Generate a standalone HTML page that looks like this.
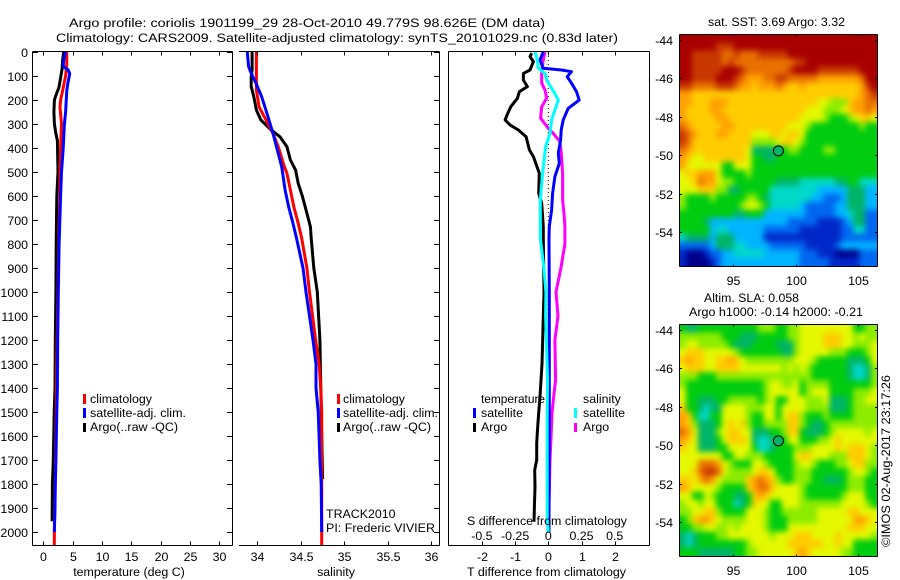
<!DOCTYPE html>
<html lang="en">
<head>
<meta charset="utf-8">
<title>Argo profile 1901199_29</title>
<style>
html,body{margin:0;padding:0;background:#fff;}
svg{display:block;}
text{font-family:"Liberation Sans",sans-serif;font-size:12.4px;fill:#000;}
.frame{stroke:#000;stroke-width:1;fill:none;shape-rendering:crispEdges;}
.tick{stroke:#000;stroke-width:1;shape-rendering:crispEdges;}
.mark{stroke-width:3.4;shape-rendering:crispEdges;}
</style>
</head>
<body>
<svg id="chart" xmlns="http://www.w3.org/2000/svg" width="900" height="580" viewBox="0 0 900 580">
  <defs>
    <filter id="soften" x="-5%" y="-5%" width="110%" height="110%" color-interpolation-filters="sRGB"><feGaussianBlur stdDeviation="3"/></filter>
    <clipPath id="clip-sst"><rect x="680" y="35" width="197" height="231"/></clipPath>
    <clipPath id="clip-sla"><rect x="680" y="325" width="197" height="231"/></clipPath>
  </defs>
  <rect x="0" y="0" width="900" height="580" fill="#fff"/>

  <text x="69" y="27" textLength="476" lengthAdjust="spacingAndGlyphs">Argo profile: coriolis 1901199_29 28-Oct-2010 49.779S 98.626E (DM data)</text>
  <text x="56" y="42" textLength="562" lengthAdjust="spacingAndGlyphs">Climatology: CARS2009. Satellite-adjusted climatology: synTS_20101029.nc (0.83d later)</text>

  <g id="panel-temp"></g>
  <g id="panel-sal"></g>
  <g id="panel-diff"></g>

  <text x="129" y="576" text-anchor="middle">temperature (deg C)</text>
  <text x="336" y="576" text-anchor="middle">salinity</text>
  <text x="467" y="576" textLength="159" lengthAdjust="spacingAndGlyphs">T difference from climatology</text>
  <text x="467" y="525" textLength="160" lengthAdjust="spacingAndGlyphs">S difference from climatology</text>

  <g>
    <line class="mark" x1="84.5" x2="84.5" y1="394" y2="404" stroke="#ff0000"/>
    <line class="mark" x1="84.5" x2="84.5" y1="408" y2="418" stroke="#0000ff"/>
    <line class="mark" x1="84.5" x2="84.5" y1="423" y2="432" stroke="#000"/>
    <text x="90" y="403" textLength="62" lengthAdjust="spacingAndGlyphs">climatology</text>
    <text x="90" y="417" textLength="96" lengthAdjust="spacingAndGlyphs">satellite-adj. clim.</text>
    <text x="90" y="431" textLength="88" lengthAdjust="spacingAndGlyphs">Argo(..raw -QC)</text>
  </g>
  <g>
    <line class="mark" x1="338.5" x2="338.5" y1="394" y2="404" stroke="#ff0000"/>
    <line class="mark" x1="338.5" x2="338.5" y1="408" y2="418" stroke="#0000ff"/>
    <line class="mark" x1="338.5" x2="338.5" y1="423" y2="432" stroke="#000"/>
    <text x="343" y="403" textLength="62" lengthAdjust="spacingAndGlyphs">climatology</text>
    <text x="343" y="417" textLength="95" lengthAdjust="spacingAndGlyphs">satellite-adj. clim.</text>
    <text x="343" y="431" textLength="88" lengthAdjust="spacingAndGlyphs">Argo(..raw -QC)</text>
  </g>
  <text x="326" y="518">TRACK2010</text>
  <text x="326" y="532" textLength="109" lengthAdjust="spacingAndGlyphs">PI: Frederic VIVIER</text>

  <g>
    <text x="481" y="403" textLength="64" lengthAdjust="spacingAndGlyphs">temperature</text>
    <text x="583" y="403">salinity</text>
    <line class="mark" x1="474.5" x2="474.5" y1="408" y2="418" stroke="#0000ff"/>
    <line class="mark" x1="474.5" x2="474.5" y1="423" y2="432" stroke="#000"/>
    <line class="mark" x1="575.5" x2="575.5" y1="408" y2="418" stroke="#00ffff"/>
    <line class="mark" x1="575.5" x2="575.5" y1="423" y2="432" stroke="#ff00ff"/>
    <text x="481" y="417">satellite</text>
    <text x="481" y="431">Argo</text>
    <text x="583" y="417">satellite</text>
    <text x="583" y="431">Argo</text>
  </g>

  <text x="708" y="26" textLength="137" lengthAdjust="spacingAndGlyphs">sat. SST: 3.69 Argo: 3.32</text>
  <text x="704" y="302" textLength="95" lengthAdjust="spacingAndGlyphs">Altim. SLA: 0.058</text>
  <text x="689" y="316" textLength="174" lengthAdjust="spacingAndGlyphs">Argo h1000: -0.14 h2000: -0.21</text>
  <g id="map-sst"></g>
  <g id="map-sla"></g>
  <text transform="translate(890 547) rotate(-90)" textLength="172" lengthAdjust="spacingAndGlyphs">©IMOS 02-Aug-2017 23:17:26</text>
</svg>

<script>
// ---------- Shared axis values ----------
const depthTicks = [0,100,200,300,400,500,600,700,800,900,1000,1100,1200,1300,1400,1500,1600,1700,1800,1900,2000];
const tempTicks = [0,5,10,15,20,25,30];
const salTicks = [34,34.5,35,35.5,36];
const tDiffTicks = [-2,-1,0,1,2];
const tDiffTickLabels = ['-2','-1','0','1','2'];
const sDiffTicks = [-0.5,-0.25,0,0.25,0.5];
const sDiffTickLabels = ['-0.5','-0.25','0','0.25','0.5'];
const lonTicks = [95,100,105];
const latTicks = [-44,-46,-48,-50,-52,-54];

// ---------- Temperature profiles ----------
const tempClimDepth = [0,50,100,150,200,230,300,400,500,600,800,1000,1200,1400,1700,2000,2054];
const tempClimValue = [3.98,4.0,3.8,3.4,2.95,2.85,3.1,2.95,2.85,2.8,2.65,2.5,2.35,2.25,2.1,1.9,1.87];
const tempSatDepth = [0,30,60,75,90,130,160,250,300,400,500,600,800,1000,1200,1400,1500,1700,1800,1900,2000];
const tempSatValue = [3.8,3.5,3.4,4.25,4.5,4.2,4.0,3.8,3.6,3.4,3.1,2.95,2.7,2.55,2.45,2.4,2.3,2.15,2.05,2.0,1.87];
const tempArgoDepth = [0,30,70,100,150,170,200,250,300,340,370,500,600,800,1000,1200,1400,1500,1700,1800,1955];
const tempArgoValue = [3.5,3.3,3.2,3.0,2.65,2.3,1.9,1.8,1.9,2.15,2.4,2.5,2.3,2.2,2.15,2.05,2.0,1.85,1.7,1.55,1.5];

// ---------- Salinity profiles ----------
const salClimDepth = [0,89,158,228,283,339,394,478,505,575,644,714,776,900,1000,1200,1300,1400,1500,2054];
const salClimValue = [33.99,33.99,33.99,34.02,34.1,34.18,34.24,34.31,34.34,34.38,34.42,34.47,34.51,34.57,34.6,34.67,34.71,34.73,34.74,34.74];
const salSatDepth = [0,61,89,130,186,255,339,408,478,575,644,714,776,900,1000,1200,1300,1400,1500,1600,1700,1800,2000];
const salSatValue = [33.885,33.9,33.93,33.985,34.05,34.11,34.18,34.23,34.28,34.32,34.36,34.41,34.45,34.525,34.56,34.64,34.675,34.675,34.7,34.71,34.72,34.735,34.74];
const salArgoDepth = [0,75,103,144,186,242,283,325,353,394,450,492,547,603,658,728,776,900,1000,1200,1400,1780];
const salArgoValue = [33.94,33.94,33.93,33.93,33.96,33.99,34.04,34.16,34.26,34.34,34.38,34.44,34.47,34.52,34.56,34.61,34.62,34.65,34.69,34.72,34.73,34.75];

// ---------- Differences from climatology (salinity in S units, temperature in deg C) ----------
const tSatDiffDepth = [0,33,68,75,82,103,130,165,200,235,283,325,367,422,464,519,589,658,728,776,1000,1400,2000];
const tSatDiffValue = [-0.15,-0.25,-0.15,0.4,0.7,0.57,0.7,0.85,0.93,0.6,0.45,0.39,0.37,0.3,0.33,0.2,0.13,0.1,0.03,0.02,0.03,0.03,0.02];
const tArgoDiffDepth = [5,19,40,75,89,117,144,165,193,228,255,283,304,325,353,408,436,505,589,630,728,776,1000,1300,1436,1504,1561,1630,1700,1742,1811,1895,1957];
const tArgoDiffValue = [-0.5,-0.55,-0.45,-0.55,-0.75,-0.75,-0.63,-0.87,-0.93,-1.13,-1.22,-1.3,-1.15,-0.9,-0.67,-0.57,-0.45,-0.27,-0.29,-0.2,-0.15,-0.15,-0.13,-0.19,-0.25,-0.29,-0.32,-0.35,-0.35,-0.41,-0.4,-0.42,-0.43];
const sSatDiffDepth = [0,33,68,89,117,158,200,242,283,339,394,505,617,776,800,900,1000,1100,1367,1500,1700,1950,2000];
const sSatDiffValue = [-0.1,-0.083,-0.075,-0.025,-0.013,0.033,0.075,0.05,0.025,0.013,-0.02,-0.043,-0.06,-0.06,-0.055,-0.033,-0.018,-0.02,-0.005,-0.008,-0.008,-0.008,0];
const sArgoDiffDepth = [0,33,75,130,158,193,228,276,318,339,374,422,505,617,672,728,776,800,900,1000,1100,1200,1367,1450,1504,1610,1700,1825,1920];
const sArgoDiffValue = [-0.025,-0.038,-0.05,-0.05,-0.025,-0.013,-0.05,-0.058,0,0.038,0.088,0.098,0.108,0.108,0.118,0.125,0.125,0.125,0.095,0.058,0.073,0.05,0.055,0.038,0.028,0.02,0.013,0.008,0.003];

// ---------- Map grids: hex colour level per cell, north to south ----------
const sstRows = [
"ddddddddddd"+"ddddddddddd"+"ddddddddddd",
"ddddddcccdd"+"ddddddddddd"+"ddddddddddd",
"ddcccccbbcb"+"bbcccccdddd"+"ddddddddddd",
"ddcccccbcbb"+"bbbbbbbbccd"+"ddddddddddd",
"ddcccccdddc"+"bbbbbbbcddd"+"dcccccccddd",
"ddccccdddcb"+"aaabbccbbbb"+"baaaaaaabdd",
"ccbbbbcccba"+"a9aaaba99a9"+"99999999acd",
"aa999999999"+"99999999999"+"99999999abc",
"aa999aaa999"+"99999999999"+"9887779aabb",
"a9999aa9999"+"99999999998"+"8877789aaba",
"a99999aa999"+"99999999988"+"88766678998",
"ba99999aa99"+"99999998887"+"66666666766",
"cba999aa999"+"98889989986"+"66666666666",
"cb999999999"+"97777899876"+"66666666666",
"ba999999999"+"85555567766"+"66776666666",
"a9889999999"+"86655666666"+"66666666666",
"a8888886688"+"86666666666"+"66666666666",
"899aaa86666"+"76666666666"+"66666666666",
"889baa87766"+"66666555544"+"44445566444",
"88899977556"+"66664444444"+"43333355533",
"76666766666"+"77654444444"+"33222355533",
"76666666667"+"88764444432"+"22223355533",
"66666666655"+"66633333332"+"22223345522",
"66665333333"+"33333332222"+"21111235522",
"66666344333"+"33322222211"+"11111224422",
"45555355533"+"33311111111"+"11111222222",
"22222355544"+"33332222221"+"11112333333",
"10001223344"+"44433333322"+"21110000222",
"10000123333"+"33333333322"+"22211111222"
];
const slaRows = [
"65566666666"+"66777667788"+"88888886677",
"77777776665"+"55666667788"+"88999887877",
"78877777655"+"56666555788"+"88999887778",
"89998888876"+"66666655788"+"88877766678",
"9a998899a98"+"77777777888"+"76666655568",
"89998899998"+"88888878787"+"66666654457",
"77766677777"+"77777777777"+"66666654457",
"76666666666"+"66678877867"+"77766666667",
"86666666666"+"66678888867"+"88866667778",
"86655566777"+"77678668887"+"77855567788",
"96654558888"+"77788688887"+"77755567777",
"a9644668888"+"76688689976"+"66766667777",
"a9755568989"+"76677779976"+"55677777777",
"ba855578998"+"85556679965"+"55678888878",
"a9855568999"+"85445668866"+"67789888888",
"98855566888"+"86445666777"+"88889899987",
"88888886688"+"77766666899"+"88877799987",
"888bbba8766"+"68876666788"+"76667789977",
"889bccb8777"+"78998666777"+"66666678876",
"998aba87777"+"9aba9766777"+"66555677766",
"a9888876666"+"9abb9888876"+"66666677766",
"88668766655"+"69a98888876"+"66666788866",
"78878866645"+"69886688877"+"77777888876",
"77889976666"+"88876677777"+"78888899888",
"679aa987777"+"88876667777"+"7888888aa98",
"66778877878"+"88876668888"+"88888899988",
"54566677888"+"88887888999"+"88889888887",
"54566666666"+"78888889999"+"99889886666",
"66655555566"+"778888889a9"+"88888776666"
];
const argoLon = 98.626;
const argoLat = -49.779;
const sstArgoLevel = 5;
const slaArgoLevel = 5;
const colormap = ['#00008c','#0028c8','#0068f0','#00b4ff','#00d8c8','#00b468','#00cc10','#8cec00','#e4f800','#ffcc00','#ffa000','#e87000','#c83800','#a80000'];

// ---------- Scales ----------
const NS = 'http://www.w3.org/2000/svg';
const yDepth = d => 52 + 0.24 * d;
const xTemp = v => 43.3 + 5.867 * v;
const xSal = v => 257.3 + 87 * (v - 34);
const xDiff = v => 548.3 + 33.2 * v;
const xLon = v => 733 + 12.53 * (v - 95);
const yLat = (v, top) => top + 5.7 + (-44 - v) * 19.23;

function make(tag, attrs, parent, text) {
  const n = document.createElementNS(NS, tag);
  for (const k in attrs) n.setAttribute(k, attrs[k]);
  if (text !== undefined) n.textContent = text;
  parent.appendChild(n);
  return n;
}
function tickLine(parent, x1, y1, x2, y2) {
  const t = make('line', {x1, y1, x2, y2, class: 'tick'}, parent);
  
  
}
function label(parent, x, y, anchor, str) {
  const t = make('text', {x, y, 'text-anchor': anchor}, parent, str);
  
  
}
function profile(parent, depths, values, xf, color, name, width) {
  const pts = depths.map((d, i) => xf(values[i]).toFixed(1) + ',' + yDepth(d).toFixed(1)).join(' ');
  const p = make('polyline', {points: pts, fill: 'none', stroke: color, 'stroke-width': width, 'stroke-linejoin': 'round'}, parent);
  
  
}
function frameLine(parent, x1, y1, x2, y2) {
  const l = make('line', {x1, y1, x2, y2, class: 'frame'}, parent);
  
  
}

const TOP = 51.5, BOT = 545.5;

// ---------- Temperature panel ----------
const pT = document.getElementById('panel-temp');
profile(pT, tempArgoDepth, tempArgoValue, xTemp, '#000', 'temperature-argo-line', 3);
profile(pT, tempClimDepth, tempClimValue, xTemp, '#ff0000', 'temperature-climatology-line', 3);
profile(pT, tempSatDepth, tempSatValue, xTemp, '#0000ff', 'temperature-satellite-line', 3);
frameLine(pT, 32.5, TOP, 232.5, TOP);
frameLine(pT, 32.5, BOT, 232.5, BOT);
frameLine(pT, 32.5, TOP, 32.5, BOT);
frameLine(pT, 232.5, TOP, 232.5, BOT);
depthTicks.forEach(d => {
  const y = Math.round(yDepth(d)) + 0.5;
  tickLine(pT, 32.5, y, 38, y);
  tickLine(pT, 227, y, 232.5, y);
  label(pT, 28, y + 4.5, 'end', String(d));
});
tempTicks.forEach(v => {
  const x = Math.round(xTemp(v)) + 0.5;
  tickLine(pT, x, TOP, x, TOP + 4);
  tickLine(pT, x, BOT - 4, x, BOT);
  label(pT, x, 561, 'middle', String(v));
});

// ---------- Salinity panel ----------
const pS = document.getElementById('panel-sal');
profile(pS, salArgoDepth, salArgoValue, xSal, '#000', 'salinity-argo-line', 3);
profile(pS, salClimDepth, salClimValue, xSal, '#ff0000', 'salinity-climatology-line', 3);
profile(pS, salSatDepth, salSatValue, xSal, '#0000ff', 'salinity-satellite-line', 3);
frameLine(pS, 239, TOP, 439.5, TOP);
frameLine(pS, 239, BOT, 439.5, BOT);
frameLine(pS, 439.5, TOP, 439.5, BOT);
salTicks.forEach(v => {
  const x = Math.round(xSal(v)) + 0.5;
  tickLine(pS, x, TOP, x, TOP + 4);
  tickLine(pS, x, BOT - 4, x, BOT);
  label(pS, x, 561, 'middle', String(v));
});
depthTicks.forEach(d => {
  const y = Math.round(yDepth(d)) + 0.5;
  tickLine(pS, 434, y, 439.5, y);
});

// ---------- Difference panel ----------
const pD = document.getElementById('panel-diff');
const zero = make('line', {x1: xDiff(0), x2: xDiff(0), y1: yDepth(0), y2: yDepth(2000), stroke: '#000', 'stroke-width': 1, 'stroke-dasharray': '1 3'}, pD);


const sToT = v => xDiff(v * 4);
profile(pD, tArgoDiffDepth, tArgoDiffValue, xDiff, '#000', 'temperature-argo-difference-line', 3);
profile(pD, sArgoDiffDepth, sArgoDiffValue, sToT, '#ff00ff', 'salinity-argo-difference-line', 3);
profile(pD, tSatDiffDepth, tSatDiffValue, xDiff, '#0000ff', 'temperature-satellite-difference-line', 3);
profile(pD, sSatDiffDepth, sSatDiffValue, sToT, '#00ffff', 'salinity-satellite-difference-line', 3);
frameLine(pD, 448.5, TOP, 649.5, TOP);
frameLine(pD, 448.5, BOT, 649.5, BOT);
frameLine(pD, 448.5, TOP, 448.5, BOT);
frameLine(pD, 649.5, TOP, 649.5, BOT);
tDiffTicks.forEach((v, i) => {
  const x = Math.round(xDiff(v)) + 0.5;
  tickLine(pD, x, TOP, x, TOP + 4);
  tickLine(pD, x, BOT - 4, x, BOT);
  label(pD, x, 561, 'middle', tDiffTickLabels[i]);
});
sDiffTicks.forEach((v, i) => {
  label(pD, sToT(v), 540, 'middle', sDiffTickLabels[i]);
});

// ---------- Maps ----------
function drawMap(id, rows, top, clipId, argoLevel, prefix) {
  const g = document.getElementById(id);
  const L = 680, W = 197 / 33, H = 231 / 29, T0 = top + 0.5;
  const clip = make('g', {'clip-path': 'url(#' + clipId + ')'}, g);
  
  
  const blur = make('g', {filter: 'url(#soften)'}, clip);
  
  
  rows.forEach((row, r) => {
    for (let c = 0; c < 33; c++) {
      const level = parseInt(row[c], 16);
      const x = L + c * W - (c === 0 ? 12 : 0);
      const y = T0 + r * H - (r === 0 ? 12 : 0);
      const w = W + (c === 0 || c === 32 ? 12 : 0) + 0.4;
      const h = H + (r === 0 || r === rows.length - 1 ? 12 : 0) + 0.4;
      const cell = make('rect', {x: x.toFixed(2), y: y.toFixed(2), width: w.toFixed(2), height: h.toFixed(2), fill: colormap[level]}, blur);
      
      
    }
  });
  const dot = make('circle', {cx: xLon(argoLon), cy: yLat(argoLat, top), r: 5, fill: colormap[argoLevel], stroke: '#000', 'stroke-width': 1}, g);
  
  
  const tp = top + 0.5, bt = top + 232.5;
  frameLine(g, 679.5, tp, 877.5, tp);
  frameLine(g, 679.5, bt, 877.5, bt);
  frameLine(g, 679.5, tp, 679.5, bt);
  frameLine(g, 877.5, tp, 877.5, bt);
  lonTicks.forEach(v => {
    const x = Math.round(xLon(v)) + 0.5;
    tickLine(g, x, tp, x, tp + 2);
    tickLine(g, x, bt - 2, x, bt);
    label(g, x, top + 251, 'middle', String(v));
  });
  latTicks.forEach(v => {
    const y = Math.round(yLat(v, top)) + 0.5;
    tickLine(g, 679.5, y, 682, y);
    tickLine(g, 875, y, 877.5, y);
    label(g, 673, y + 4.5, 'end', String(v));
  });
}
drawMap('map-sst', sstRows, 34, 'clip-sst', sstArgoLevel, 'sst');
drawMap('map-sla', slaRows, 324, 'clip-sla', slaArgoLevel, 'sla');
</script>
</body>
</html>
